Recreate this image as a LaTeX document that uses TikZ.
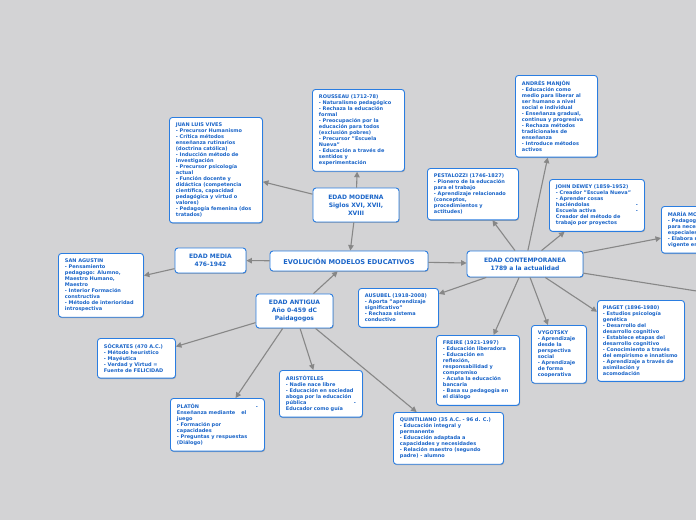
\documentclass[tikz,border=0pt]{standalone}
\usepackage{fontspec}
\setmainfont{DejaVu Sans}
\usetikzlibrary{arrows.meta,shadows}
\definecolor{bg}{HTML}{D3D3D5}
\definecolor{txt}{HTML}{1964C8}
\definecolor{brd}{HTML}{2A7DE1}
\definecolor{arr}{HTML}{878787}
\tikzset{
  leaf/.style={draw=brd, fill=white, line width=0.9pt, rounded corners=3pt, text=txt,
    font=\bfseries\fontsize{5}{6}\selectfont, align=left, anchor=north west,
    inner xsep=6.5pt, inner ysep=5.5pt,
    drop shadow={shadow xshift=0.6pt, shadow yshift=-0.9pt, fill=black, opacity=0.22}},
  topic/.style={draw=brd, fill=white, line width=0.9pt, rounded corners=3pt, text=txt,
    font=\bfseries\fontsize{6}{8}\selectfont, align=center, inner sep=2pt,
    drop shadow={shadow xshift=0.6pt, shadow yshift=-0.9pt, fill=black, opacity=0.22}},
  link/.style={draw=arr, line width=1.1pt, -{Triangle[length=5.5pt,width=5.5pt]}}
}
\begin{document}
\hyphenpenalty=10000
\exhyphenpenalty=10000
\begin{tikzpicture}[x=1pt,y=-1pt]
\useasboundingbox (0,0) rectangle (696,520);
\fill[bg] (0,0) rectangle (696,520);
\clip (0,0) rectangle (696,520);

% main topics
\node[topic, minimum width=158pt, minimum height=20pt, font=\bfseries\fontsize{6.6}{8}\selectfont] (ev) at (349,261) {EVOLUCIÓN MODELOS EDUCATIVOS};
\node[topic, minimum width=86pt, minimum height=34pt] (mod) at (356,205) {EDAD MODERNA\\Siglos XVI, XVII,\\XVIII};
\node[topic, minimum width=71pt, minimum height=25pt] (med) at (210.5,260.5) {EDAD MEDIA\\476-1942};
\node[topic, minimum width=77pt, minimum height=34pt] (ant) at (294.5,311) {EDAD ANTIGUA\\Año 0-459 dC\\Paidagogos};
\node[topic, minimum width=116pt, minimum height=26pt] (con) at (525,264) {EDAD CONTEMPORANEA\\1789 a la actualidad};

% leaves
\node[leaf, text width=80pt] (viv) at (169,117) {JUAN LUIS VIVES\\- Precursor Humanismo\\- Crítica métodos\\enseñanza rutinarios\\(doctrina católica)\\- Inducción método de\\investigación\\- Precursor psicología\\actual\\- Función docente y\\didáctica (competencia\\científica, capacidad\\pedagógica y virtud o\\valores)\\- Pedagogía femenina (dos\\tratados)};
\node[leaf, text width=79pt] (rou) at (312,89) {ROUSSEAU (1712-78)\\- Naturalismo pedagógico\\- Rechaza la educación\\formal\\- Preocupación por la\\educación para todos\\(exclusión pobres)\\- Precursor "Escuela\\Nueva"\\- Educación a través de\\sentidos y\\experimentación};
\node[leaf, text width=69pt] (man) at (515,75) {ANDRÉS MANJÓN\\- Educación como\\medio para liberar al\\ser humano a nivel\\social e individual\\- Enseñanza gradual,\\continua y progresiva\\- Rechaza métodos\\tradicionales de\\enseñanza\\- Introduce métodos\\activos};
\node[leaf, text width=78pt] (pes) at (427,168) {PESTALOZZI (1746-1827)\\- Pionero de la educación\\para el trabajo\\- Aprendizaje relacionado\\(conceptos,\\procedimientos y\\actitudes)};
\node[leaf, text width=82pt] (dew) at (549,179) {JOHN DEWEY (1859-1952)\\- Creador "Escuela Nueva"\\- Aprender cosas\\haciéndolas\hfill -\\Escuela activa\hfill -\\Creador del método de\\trabajo por proyectos};
\node[leaf, text width=73pt] (mar) at (661,206) {MARÍA MONTESSORI\\- Pedagogía\\para necesidades\\especiales\\- Elabora método\\vigente en la actualidad};
\node[leaf, text width=72pt] (agu) at (58,253) {SAN AGUSTIN\\- Pensamiento\\pedagogo: Alumno,\\Maestro Humano,\\Maestro\\- Interior Formación\\constructiva\\- Método de interioridad\\introspectiva};
\node[leaf, text width=67pt] (aus) at (358,288) {AUSUBEL (1918-2008)\\- Aporta "aprendizaje\\significativo"\\- Rechaza sistema\\conductivo};
\node[leaf, text width=70pt] (fre) at (436,335) {FREIRE (1921-1997)\\- Educación liberadora\\- Educación en\\reflexión,\\responsabilidad y\\compromiso\\- Acuña la educación\\bancaria\\- Basa su pedagogía en\\el diálogo};
\node[leaf, text width=42pt] (vyg) at (531,325) {VYGOTSKY\\- Aprendizaje\\desde la\\perspectiva\\social\\- Aprendizaje\\de forma\\cooperativa};
\node[leaf, text width=76pt, inner xsep=5.5pt] (pia) at (597,300) {PIAGET (1896-1980)\\- Estudios psicología\\genética\\- Desarrollo del\\desarrollo cognitivo\\- Establece etapas del\\desarrollo cognitivo\\- Conocimiento a través\\del empirismo e innatismo\\- Aprendizaje a través de\\asimilación y\\acomodación};
\node[leaf, text width=65pt] (soc) at (97,338) {SÓCRATES (470 A.C.)\\- Método heurístico\\- Mayéutica\\- Verdad y Virtud =\\Fuente de FELICIDAD};
\node[leaf, text width=81pt] (pla) at (170,398) {PLATÓN\hfill -\\Enseñanza mediante\hspace{1.2em}el\\juego\\- Formación por\\capacidades\\- Preguntas y respuestas\\(Diálogo)};
\node[leaf, text width=70pt] (ari) at (279,370) {ARISTÓTELES\\- Nadie nace libre\\- Educación en sociedad\\aboga por la educación\\pública\hfill -\\Educador como guía};
\node[leaf, text width=97pt] (qui) at (393,412) {QUINTILIANO (35 A.C. - 96 d. C.)\\- Educación integral y\\permanente\\- Educación adaptada a\\capacidades y necesidades\\- Relación maestro (segundo\\padre) - alumno};

\coordinate (off) at (760,301);

% connectors
\draw[link] (mod) -- (ev);
\draw[link] (ant) -- (ev);
\draw[link] (ev) -- (med);
\draw[link] (ev) -- (con);
\draw[link] (mod) -- (viv);
\draw[link] (mod) -- (rou);
\draw[link] (med) -- (agu);
\draw[link] (ant) -- (soc);
\draw[link] (ant) -- (pla);
\draw[link] (ant) -- (ari);
\draw[link] (ant) -- (qui);
\draw[link] (con) -- (man);
\draw[link] (con) -- (pes);
\draw[link] (con) -- (dew);
\draw[link] (con) -- (mar);
\draw[link] (con) -- (off);
\draw[link] (con) -- (pia);
\draw[link] (con) -- (vyg);
\draw[link] (con) -- (fre);
\draw[link] (con) -- (aus);
\end{tikzpicture}
\end{document}
